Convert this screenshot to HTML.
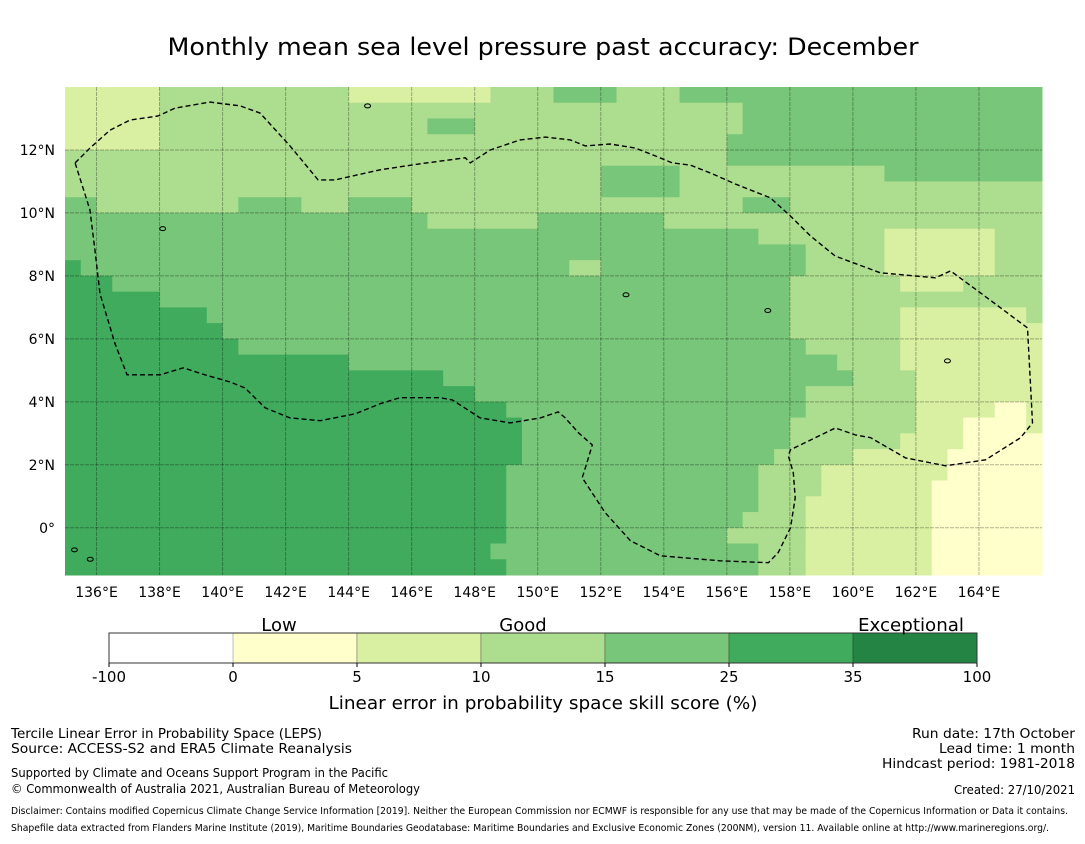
<!DOCTYPE html>
<html><head><meta charset="utf-8"><style>
html,body{margin:0;padding:0;background:#fff;}
svg text{font-family:"DejaVu Sans","Liberation Sans",sans-serif;}
</style></head><body>
<svg id="chart" width="1085" height="839" viewBox="0 0 1085 839" xmlns="http://www.w3.org/2000/svg">
<text x="543" y="55" font-size="24" text-anchor="middle" textLength="751" lengthAdjust="spacingAndGlyphs">Monthly mean sea level pressure past accuracy: December</text>
<g id="cells"></g>
<g id="grid"></g>
<g id="coast"></g>
<path id="eez" fill="none" stroke="#000" stroke-width="1.4" stroke-dasharray="5,3"/>
<g id="xt"></g>
<g id="yt"></g>
<g id="cbar"></g>
<text x="279" y="631" font-size="18" text-anchor="middle">Low</text>
<text x="523" y="631" font-size="18" text-anchor="middle">Good</text>
<text x="911" y="631" font-size="18" text-anchor="middle" textLength="106" lengthAdjust="spacingAndGlyphs">Exceptional</text>
<text x="543" y="709" font-size="18" text-anchor="middle" textLength="429" lengthAdjust="spacingAndGlyphs">Linear error in probability space skill score (%)</text>
<g font-size="13.5">
<text x="11" y="738" textLength="311" lengthAdjust="spacingAndGlyphs">Tercile Linear Error in Probability Space (LEPS)</text>
<text x="11" y="753" textLength="341" lengthAdjust="spacingAndGlyphs">Source: ACCESS-S2 and ERA5 Climate Reanalysis</text>
<text x="11" y="777" font-size="12" textLength="377" lengthAdjust="spacingAndGlyphs">Supported by Climate and Oceans Support Program in the Pacific</text>
<text x="11" y="793" font-size="12" textLength="409" lengthAdjust="spacingAndGlyphs">© Commonwealth of Australia 2021, Australian Bureau of Meteorology</text>
</g>
<g font-size="13.5" text-anchor="end">
<text x="1075" y="738" textLength="163" lengthAdjust="spacingAndGlyphs">Run date: 17th October</text>
<text x="1075" y="753" textLength="136" lengthAdjust="spacingAndGlyphs">Lead time: 1 month</text>
<text x="1075" y="768" textLength="193" lengthAdjust="spacingAndGlyphs">Hindcast period: 1981-2018</text>
<text x="1075" y="794" font-size="12" textLength="121" lengthAdjust="spacingAndGlyphs">Created: 27/10/2021</text>
</g>
<text x="11" y="814" font-size="9.5" textLength="1057" lengthAdjust="spacingAndGlyphs">Disclaimer: Contains modified Copernicus Climate Change Service Information [2019]. Neither the European Commission nor ECMWF is responsible for any use that may be made of the Copernicus Information or Data it contains.</text>
<text x="11" y="831" font-size="9.5" textLength="1038" lengthAdjust="spacingAndGlyphs">Shapefile data extracted from Flanders Marine Institute (2019), Maritime Boundaries Geodatabase: Maritime Boundaries and Exclusive Economic Zones (200NM), version 11. Available online at http://www.marineregions.org/.</text>
</svg>
<script>
// ---- data ----
const lonTicks=[136,138,140,142,144,146,148,150,152,154,156,158,160,162,164];
const latTicks=[0,2,4,6,8,10,12];
const levelColors=['#ffffff','#ffffcc','#d9f0a3','#addd8e','#78c679','#41ab5d','#238443'];
const cbarTicks=['-100','0','5','10','15','25','35','100'];
// run-length rows (level,count) at 0.5° from 14N southward, 135E eastward
const rows=[
[2,6,3,12,2,9,3,4,4,4,3,4,4,23],
[2,6,3,37,4,19],
[2,6,3,17,4,3,3,17,4,19],
[2,6,3,36,4,20],
[3,42,4,20],
[3,34,4,5,3,13,4,10],
[3,34,4,5,3,23],
[4,2,3,9,4,4,3,3,4,4,3,21,4,3,3,16],
[4,23,3,7,4,8,3,24],
[4,44,3,8,2,7,3,3],
[4,47,3,5,2,7,3,3],
[5,1,4,31,3,2,4,13,3,5,2,7,3,3],
[5,3,4,43,3,7,2,4,3,5],
[5,6,4,40,3,16],
[5,9,4,37,3,7,2,8,3,1],
[5,10,4,36,3,7,2,9],
[5,11,4,36,3,6,2,9],
[5,18,4,31,3,4,2,9],
[5,24,4,26,3,4,2,8],
[5,26,4,21,3,7,2,8],
[5,28,4,19,3,7,2,5,1,2,2,1],
[5,29,4,17,3,8,2,3,1,4,2,1],
[5,29,4,17,3,7,2,4,1,5],
[5,29,4,16,3,5,2,6,1,6],
[5,28,4,16,3,4,2,8,1,6],
[5,28,4,16,3,4,2,7,1,7],
[5,28,4,16,3,3,2,8,1,7],
[5,28,4,15,3,4,2,8,1,7],
[5,28,4,14,3,5,2,8,1,7],
[5,27,4,17,3,3,2,8,1,7],
[5,28,4,16,3,3,2,8,1,7]
];
const eezLon=[135.32,135.79,136.43,137.06,137.95,138.49,139.60,140.56,141.19,142.14,143.03,143.57,145.0,146.27,147.70,147.86,148.49,149.44,150.24,151.03,151.51,152.30,153.10,153.73,154.27,154.84,155.48,156.27,157.38,158.02,158.65,159.44,160.87,162.62,163.10,164.05,165.54,165.70,165.32,164.21,162.94,161.67,160.56,160.08,159.44,158.33,158.02,157.95,158.11,158.17,158.02,157.63,157.32,155.79,153.89,152.94,152.14,151.41,151.51,151.73,151.29,150.87,150.65,150.08,149.13,148.17,147.29,146.90,145.63,145.0,144.21,143.10,142.14,141.35,140.71,140.24,139.44,138.75,138.02,136.97,136.59,136.11,135.95,135.79,135.32];
const eezLat=[11.59,12.06,12.63,12.95,13.08,13.33,13.52,13.40,13.17,12.13,11.05,11.05,11.37,11.56,11.75,11.59,12.0,12.32,12.41,12.32,12.13,12.19,12.06,11.81,11.59,11.52,11.27,10.92,10.48,9.90,9.27,8.63,8.10,7.94,8.16,7.46,6.35,3.33,2.86,2.16,1.97,2.22,2.86,2.95,3.17,2.63,2.48,2.29,1.75,0.95,0.0,-0.79,-1.11,-1.05,-0.89,-0.41,0.48,1.59,1.90,2.63,3.02,3.49,3.68,3.49,3.33,3.49,4.06,4.13,4.13,3.94,3.62,3.40,3.49,3.81,4.44,4.63,4.86,5.08,4.86,4.86,5.84,7.43,8.83,10.10,11.59];
// ---- axes ----
const X0=65,X1=1042,Y0=87,Y1=575,LON0=135,LON1=166,LAT0=14,LAT1=-1.5;
const xs=lon=>X0+(lon-LON0)/(LON1-LON0)*(X1-X0);
const ys=lat=>Y0+(LAT0-lat)/(LAT0-LAT1)*(Y1-Y0);
const NS='http://www.w3.org/2000/svg';
function mk(t,a,p){const e=document.createElementNS(NS,t);for(const k in a)e.setAttribute(k,a[k]);p.appendChild(e);return e;}
const cells=document.getElementById('cells');
rows.forEach((row,r)=>{let c=0;for(let i=0;i<row.length;i+=2){const lv=row[i],n=row[i+1];
 const x=xs(LON0+c*0.5),x2=xs(LON0+(c+n)*0.5),y=ys(LAT0-r*0.5),y2=ys(LAT0-(r+1)*0.5);
 const e=mk('rect',{x:x,y:y,width:x2-x+0.5,height:y2-y+0.5,fill:levelColors[lv]},cells);
 
 
 c+=n;}});
const grid=document.getElementById('grid'),xt=document.getElementById('xt'),yt=document.getElementById('yt');
lonTicks.forEach(l=>{const x=xs(l);
 const g=mk('line',{x1:x,x2:x,y1:Y0,y2:Y1,stroke:'rgba(0,0,0,0.3)','stroke-width':1,'stroke-dasharray':'4,1'},grid);
 
 
 const t=mk('text',{x:x,y:597,'font-size':14,'text-anchor':'middle'},xt);t.textContent=l+'°E';
 
 });
latTicks.forEach(l=>{const y=ys(l);
 const g=mk('line',{x1:X0,x2:X1,y1:y,y2:y,stroke:'rgba(0,0,0,0.3)','stroke-width':1,'stroke-dasharray':'4,1'},grid);
 
 
 const t=mk('text',{x:55,y:y+5,'font-size':14,'text-anchor':'end'},yt);t.textContent=l===0?'0°':l+'°N';
 
 });
let d='';eezLon.forEach((l,i)=>{d+=(i?'L':'M')+xs(l).toFixed(1)+','+ys(eezLat[i]).toFixed(1);});
document.getElementById('eez').setAttribute('d',d);
// small islands
const coast=document.getElementById('coast');
[[144.6,13.4],[135.3,-0.7],[135.8,-1.0],[152.8,7.4],[157.3,6.9],[163.0,5.3],[138.1,9.5]].forEach(p=>{
 const e=mk('ellipse',{cx:xs(p[0]),cy:ys(p[1]),rx:3,ry:2,fill:'none',stroke:'#000','stroke-width':1},coast);
 
 });
// colorbar
const cb=document.getElementById('cbar');const CX0=109,CX1=977,CY0=633,CY1=663,sw=(CX1-CX0)/7;
for(let i=0;i<7;i++){const e=mk('rect',{x:CX0+i*sw,y:CY0,width:sw,height:CY1-CY0,fill:levelColors[i],stroke:i?'rgba(0,0,0,0.25)':'none'},cb);
 
 }
mk('rect',{x:CX0,y:CY0,width:CX1-CX0,height:CY1-CY0,fill:'none',stroke:'#333','stroke-width':1},cb);
cbarTicks.forEach((t,i)=>{const x=CX0+i*sw;mk('line',{x1:x,x2:x,y1:CY1,y2:CY1+4,stroke:'#000'},cb);
 const e=mk('text',{x:x,y:682,'font-size':15,'text-anchor':'middle'},cb);e.textContent=t;
 
 });
</script>
</body></html>
